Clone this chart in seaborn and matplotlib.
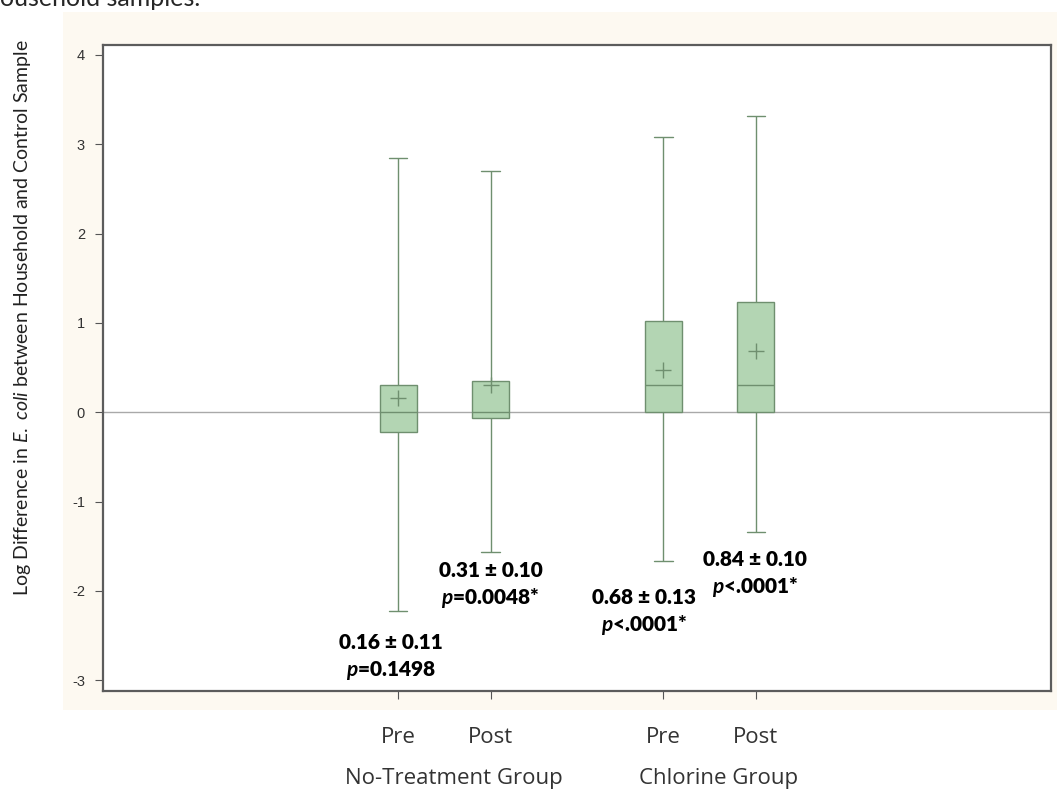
import numpy as np
import pandas as pd
import matplotlib
matplotlib.use("Agg")
import matplotlib.pyplot as plt
import seaborn as sns

# Box summaries (log difference in E. coli)
groups = ["No-Treatment Group", "No-Treatment Group", "Chlorine Group", "Chlorine Group"]
periods = ["Pre", "Post", "Pre", "Post"]
mins = [-2.22, -1.56, -1.67, -1.34]
q1s = [-0.22, -0.07, 0.00, 0.00]
medians = [0.00, 0.00, 0.30, 0.30]
q3s = [0.31, 0.35, 1.02, 1.23]
maxs = [2.85, 2.70, 3.08, 3.31]
means = [0.16, 0.30, 0.47, 0.68]

est_labels = ["0.16 \u00b1 0.11", "0.31 \u00b1 0.10", "0.68 \u00b1 0.13", "0.84 \u00b1 0.10"]
p_labels = ["=0.1498", "=0.0048*", "<.0001*", "<.0001*"]

sns.set_style("white")
plt.rcParams["font.family"] = ["Lato", "DejaVu Sans"]
plt.rcParams["mathtext.fontset"] = "custom"
plt.rcParams["mathtext.rm"] = "Lato"
plt.rcParams["mathtext.it"] = "Lato:italic"
plt.rcParams["mathtext.bf"] = "Lato:bold"
plt.rcParams["mathtext.bfit"] = "Lato:bold:italic"

# x layout: two periods inside each group, groups spaced apart
group_order = ["No-Treatment Group", "Chlorine Group"]
group_gap = 2.87
xpos = [group_order.index(g) * group_gap + (0 if p == "Pre" else 1) for g, p in zip(groups, periods)]

rows = []
for x, lo, a, m, b, hi in zip(xpos, mins, q1s, medians, q3s, maxs):
    for v in (lo, a, m, b, hi):
        rows.append({"x": x, "value": v})
df = pd.DataFrame(rows)
mean_df = pd.DataFrame({"x": xpos, "mean": means})

fig = plt.figure(figsize=(10.57, 7.95), dpi=100)
# cream panel behind the plot
bg = fig.add_axes([63 / 1057, 1 - 710 / 795, 1 - 63 / 1057, (710 - 12) / 795], zorder=-5)
bg.set_facecolor("#fdf9f1")
bg.set_xticks([])
bg.set_yticks([])
for s in bg.spines.values():
    s.set_visible(False)

ax = fig.add_axes([103 / 1057, 1 - 691 / 795, 948 / 1057, 646 / 795])
ax.set_facecolor("white")

edge = "#6f8f6f"
ax.axhline(0, color="#a9a9a9", lw=1, zorder=1)
sns.boxplot(data=df, x="x", y="value", native_scale=True, whis=(0, 100), width=0.4,
            color="#b3d5b3", linecolor=edge, linewidth=1, saturation=1, ax=ax, zorder=2)
sns.scatterplot(data=mean_df, x="x", y="mean", marker="+", s=120, color=edge,
                linewidth=1, ax=ax, zorder=3)

ax.set_xlim(-3.19, 7.06)
ax.set_ylim(-3.12, 4.11)
ax.set_yticks(range(-3, 5))
ax.set_yticklabels([str(v) for v in range(-3, 5)], fontfamily="Liberation Sans", fontsize=10.5, color="#333333")
ax.set_xticks(xpos)
ax.set_xticklabels(periods, fontfamily="Open Sans", fontsize=16, color="#333333")
ax.tick_params(axis="both", direction="out", length=6, width=0.8, color="#555555", bottom=True, left=True)
ax.tick_params(axis="x", pad=20)
ax.tick_params(axis="y", pad=7)
ax.set_xlabel("")
ax.set_ylabel("")
for s in ax.spines.values():
    s.set_visible(True)
    s.set_color("#5c5c5c")
    s.set_linewidth(1.6)

# group labels under the period ticks
for i, g in enumerate(group_order):
    ax.text(i * group_gap + 0.6, -0.135, g, transform=ax.get_xaxis_transform(), ha="center", va="center",
            fontfamily="Open Sans", fontsize=16, color="#333333")

# estimate / p-value annotations
est_pos = [(-0.08, -2.58), (1.0, -1.77), (2.66, -2.07), (3.86, -1.65)]
for (x, y), e, p in zip(est_pos, est_labels, p_labels):
    ax.text(x, y, e, ha="center", va="center", fontsize=15, fontweight="heavy", color="black")
    ax.text(x, y - 0.31, r"$\mathbfit{p}$" + p, ha="center", va="center", fontsize=15,
            fontweight="heavy", color="black")

fig.text(23 / 1057, 1 - 318 / 795,
         r"Log Difference in $\mathit{E.}$ $\mathit{coli}$ between Household and Control Sample",
         rotation=90, ha="center", va="center", fontsize=14, color="#222222")
fig.text(0, 1 - 6 / 795, "ousehold samples.", ha="left", va="baseline", fontsize=18)

fig.savefig("out.png", dpi=100)
